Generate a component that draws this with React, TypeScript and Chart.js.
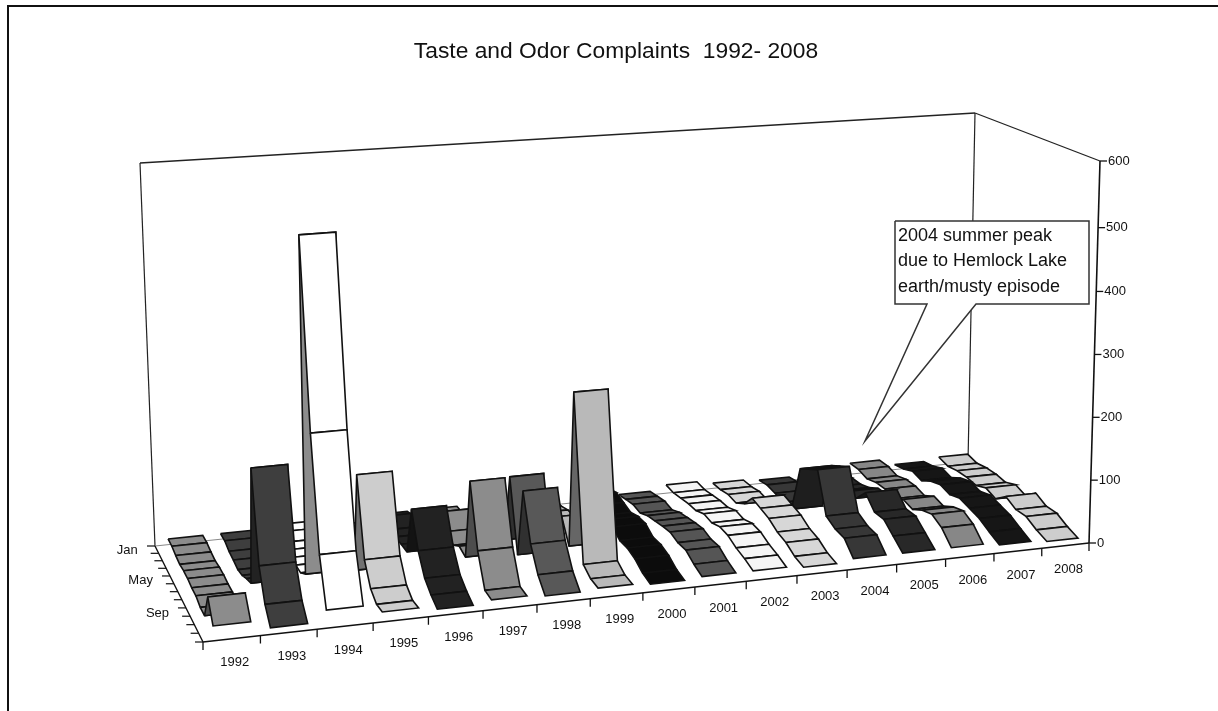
import React, { useEffect, useRef } from "react";
import { Chart, registerables } from "chart.js";

Chart.register(...registerables);

const WIDTH = 1218;
const HEIGHT = 711;

const years = ["1992","1993","1994","1995","1996","1997","1998","1999","2000","2001","2002","2003","2004","2005","2006","2007","2008"];
const monthTicks = ["Jan","May","Sep"];
const valueTicks = [0,100,200,300,400,500,600];
const title = "Taste and Odor Complaints  1992- 2008";
const noteLines = ["2004 summer peak","due to Hemlock Lake","earth/musty episode"];

const v1992 = [15,15,12,10,12,12,10,10,5,5,45,15];
const v1993 = [15,15,10,8,5,8,15,20,205,70,25,3];
const v1994 = [20,20,15,15,15,15,15,25,545,260,90,20];
const v1995 = [10,15,20,15,15,10,10,168,50,18,7,8];
const v1996 = [20,25,40,30,30,30,30,107,55,25,12,3];
const v1997 = [20,20,30,50,30,20,30,25,153,58,10,8];
const v1998 = [15,15,25,25,25,20,130,20,130,60,25,5];
const v1999 = [15,15,20,20,30,40,60,25,275,20,10,8];
const v2000 = [30,35,40,35,30,35,35,25,25,20,10,5];
const v2001 = [12,15,18,15,22,25,28,30,25,25,15,8];
const v2002 = [20,18,20,22,22,28,25,30,28,20,15,8];
const v2003 = [15,15,18,15,25,45,40,35,25,20,10,5];
const v2004 = [12,15,12,8,8,85,95,105,42,33,30,10];
const v2005 = [15,20,25,25,30,40,40,60,40,40,25,10];
const v2006 = [25,25,20,25,25,20,30,25,35,40,30,10];
const v2007 = [15,18,25,20,30,35,30,35,30,25,15,6];
const v2008 = [20,15,18,18,15,22,15,30,20,20,10,3];
const seriesValues = [v1992,v1993,v1994,v1995,v1996,v1997,v1998,v1999,v2000,v2001,v2002,v2003,v2004,v2005,v2006,v2007,v2008];

const yearGrays = [140,62,255,205,34,140,88,185,12,85,245,215,55,40,135,22,205];

const BL = [155,546], BR = [968,462], FR = [1089,543], FL = [203,642];
const UP_BL = [-15,-383], UP_BR = [7,-349], UP_FR = [11,-382], UP_FL = [-18,-418];

function makeHomography() {
  const [x0,y0]=BL,[x1,y1]=BR,[x2,y2]=FR,[x3,y3]=FL;
  const dx1=x1-x2,dx2=x3-x2,dx3=x0-x1+x2-x3;
  const dy1=y1-y2,dy2=y3-y2,dy3=y0-y1+y2-y3;
  const den=dx1*dy2-dx2*dy1;
  const g=(dx3*dy2-dx2*dy3)/den;
  const h=(dx1*dy3-dx3*dy1)/den;
  const a=x1-x0+g*x1,b=x3-x0+h*x3,c=x0,d=y1-y0+g*y1,e=y3-y0+h*y3,f=y0;
  return (u:number,v:number)=>{
    const w=g*u+h*v+1;
    return [(a*u+b*v+c)/w,(d*u+e*v+f)/w];
  };
}
const floor = makeHomography();
const mix=(p:number[],q:number[],t:number)=>[p[0]+(q[0]-p[0])*t,p[1]+(q[1]-p[1])*t];
function project(u0:number,v:number,val:number){
  const u=u0+0.027*u0*(1-u0);
  const p=floor(u,v);
  const up=mix(mix(UP_BL,UP_BR,u),mix(UP_FL,UP_FR,u),v);
  const t=val/600;
  const h=t*0.987+0.013*Math.pow(t,8);
  return {x:p[0]+up[0]*h,y:p[1]+up[1]*h};
}
const RIB_L=0.22, RIB_R=0.88;

function gray(g:number){const c=Math.round(Math.max(0,Math.min(255,g)));return `rgb(${c},${c},${c})`;}

function polyDataset(points:{x:number;y:number}[],fill:string,stroke:string,width:number){
  return {data:points,showLine:true,fill:"shape",backgroundColor:fill,borderColor:stroke,borderWidth:width,pointRadius:0,tension:0,clip:false};
}
function lineDataset(points:{x:number;y:number}[],stroke:string,width:number){
  return {data:points,showLine:true,fill:false,borderColor:stroke,borderWidth:width,pointRadius:0,tension:0,clip:false};
}

function buildDatasets(){
  const out:any[]=[];
  const n=years.length;
  const wall=[[140,163],[975,113]];
  out.push(lineDataset([{x:BL[0]+UP_BL[0],y:BL[1]+UP_BL[1]},{x:BL[0],y:BL[1]}],"#222",1.2));
  out.push(lineDataset([{x:wall[0][0],y:wall[0][1]},{x:wall[1][0],y:wall[1][1]}],"#222",1.4));
  out.push(lineDataset([{x:BR[0]+UP_BR[0],y:BR[1]+UP_BR[1]},{x:BR[0],y:BR[1]}],"#222",1.2));
  out.push(lineDataset([{x:BR[0]+UP_BR[0],y:BR[1]+UP_BR[1]},{x:FR[0]+UP_FR[0],y:FR[1]+UP_FR[1]}],"#222",1.3));
  out.push(lineDataset([{x:BL[0],y:BL[1]},{x:BR[0],y:BR[1]}],"#888",1));
  // axes
  out.push(lineDataset([{x:FR[0]+UP_FR[0],y:FR[1]+UP_FR[1]},{x:FR[0],y:FR[1]}],"#111",1.6));
  out.push(lineDataset([{x:BL[0],y:BL[1]},{x:FL[0],y:FL[1]}],"#111",1.4));
  out.push(lineDataset([{x:FL[0],y:FL[1]},{x:FR[0],y:FR[1]}],"#111",1.6));
  for(let i=0;i<=n;i++){const p=project(i/n,1,0);out.push(lineDataset([{x:p.x,y:p.y},{x:p.x,y:p.y+8}],"#111",1.3));}
  for(let m=0;m<=12;m++){const p=project(0,m/12,0);out.push(lineDataset([{x:p.x,y:p.y},{x:p.x-8,y:p.y}],"#111",1.2));}
  for(const t of valueTicks){const p=project(1,1,t);out.push(lineDataset([{x:p.x,y:p.y},{x:p.x+7,y:p.y}],"#111",1.3));}
  // ribbons, far to near
  for(let i=n-1;i>=0;i--){
    const vals=seriesValues[i];
    const u0=(i+RIB_L)/n,u1=(i+RIB_R)/n;
    for(let m=0;m<11;m++){
      const v0=(m+.5)/12,v1=(m+1.5)/12;
      const a=project(u0,v0,vals[m]),b=project(u1,v0,vals[m]);
      const c=project(u1,v1,vals[m+1]),d=project(u0,v1,vals[m+1]);
      const under=(c.y+d.y)<(a.y+b.y);
      const g=yearGrays[i]*(under?0.55:1);
      out.push(polyDataset([a,b,c,d,a],gray(g),"#111",1.6));
    }
  }
  // callout
  const box=polyDataset([
    {x:895,y:221},{x:1089,y:221},{x:1089,y:304},{x:976,y:304},{x:865,y:441},{x:927,y:304},{x:895,y:304},{x:895,y:221}
  ],"#ffffff","#333",1.5);
  out.push(box);
  return out.reverse();
}

const textPlugin={
  id:"labels",
  afterDraw(chart:any){
    const {ctx,scales}=chart;
    const px=(x:number)=>scales.x.getPixelForValue(x),py=(y:number)=>scales.y.getPixelForValue(y);
    ctx.save();
    ctx.fillStyle="#111";
    ctx.textBaseline="middle";
    const n=years.length;
    ctx.font='13px "Liberation Sans"';
    ctx.textAlign="center";
    years.forEach((t,i)=>{const p=project((i+.5)/n,1,0);ctx.fillText(t,px(p.x+3),py(p.y+24));});
    monthTicks.forEach((t,k)=>{const p=project(0,(k*4+.5)/12,0);ctx.textAlign="right";ctx.fillText(t,px(p.x-19),py(p.y+1));});
    ctx.textAlign="left";
    valueTicks.forEach(t=>{const p=project(1,1,t);ctx.fillText(String(t),px(p.x+8),py(p.y));});
    ctx.font='22.8px "Liberation Sans"';
    ctx.textAlign="center";
    ctx.fillText(title,px(616),py(52));
    ctx.font='18px "Liberation Sans"';
    ctx.textAlign="left";
    noteLines.forEach((t,k)=>ctx.fillText(t,px(898),py(236+k*25.5)));
    ctx.restore();
  }
};

const framePlugin={
  id:"frame",
  beforeDraw(chart:any){
    const {ctx}=chart;
    ctx.save();
    ctx.fillStyle="#fff";
    ctx.fillRect(0,0,WIDTH,HEIGHT);
    ctx.strokeStyle="#111";
    ctx.lineWidth=2;
    ctx.beginPath();
    ctx.moveTo(8,711);ctx.lineTo(8,6);ctx.lineTo(1218,6);
    ctx.stroke();
    ctx.restore();
  }
};

export default function App(){
  const ref=useRef<HTMLCanvasElement>(null);
  useEffect(()=>{
    document.body.style.margin="0";
    const chart=new Chart(ref.current as HTMLCanvasElement,{
      type:"scatter",
      data:{datasets:buildDatasets()},
      plugins:[framePlugin,textPlugin],
      options:{
        animation:false,responsive:false,
        layout:{padding:0},
        plugins:{legend:{display:false},tooltip:{enabled:false},title:{display:false}},
        scales:{
          x:{type:"linear",min:0,max:WIDTH,display:false},
          y:{type:"linear",min:0,max:HEIGHT,reverse:true,display:false}
        }
      }
    } as any);
    return ()=>chart.destroy();
  },[]);
  return <canvas ref={ref} width={WIDTH} height={HEIGHT} style={{display:"block"}} />;
}
